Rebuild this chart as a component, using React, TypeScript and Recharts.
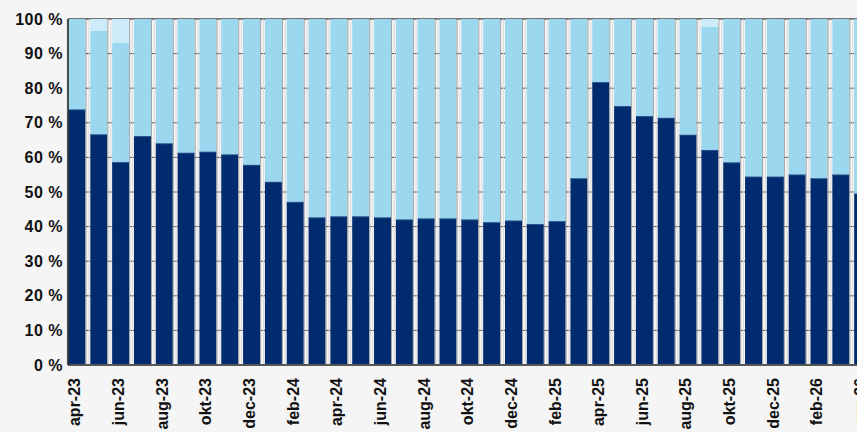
import React from 'react';
import { BarChart, Bar, XAxis, YAxis, CartesianGrid } from 'recharts';

const months: string[] = [
  'apr-23', 'maj-23', 'jun-23', 'jul-23', 'aug-23', 'sep-23', 'okt-23', 'nov-23', 'dec-23',
  'jan-24', 'feb-24', 'mar-24', 'apr-24', 'maj-24', 'jun-24', 'jul-24', 'aug-24', 'sep-24', 'okt-24', 'nov-24', 'dec-24',
  'jan-25', 'feb-25', 'mar-25', 'apr-25', 'maj-25', 'jun-25', 'jul-25', 'aug-25', 'sep-25', 'okt-25', 'nov-25', 'dec-25',
  'jan-26', 'feb-26', 'mar-26', 'apr-26',
];

const darkShare: number[] = [
  73.9, 66.7, 58.7, 66.2, 64.1, 61.4, 61.7, 60.9, 57.9,
  53.0, 47.2, 42.7, 43.0, 43.0, 42.7, 42.1, 42.4, 42.4, 42.1, 41.3, 41.8,
  40.8, 41.6, 54.0, 81.8, 74.9, 72.0, 71.5, 66.6, 62.2, 58.6, 54.5, 54.5,
  55.1, 54.0, 55.1, 49.6,
];

const midShare: number[] = [
  26.1, 29.9, 34.5, 33.8, 35.9, 38.6, 38.3, 39.1, 42.1,
  47.0, 52.8, 57.3, 57.0, 57.0, 57.3, 57.9, 57.6, 57.6, 57.9, 58.7, 58.2,
  59.2, 58.4, 46.0, 18.2, 25.1, 28.0, 28.5, 33.4, 35.6, 41.4, 45.5, 45.5,
  44.9, 46.0, 44.9, 50.4,
];

const topShare: number[] = [
  0, 3.4, 6.8, 0, 0, 0, 0, 0, 0,
  0, 0, 0, 0, 0, 0, 0, 0, 0, 0, 0, 0,
  0, 0, 0, 0, 0, 0, 0, 0, 2.2, 0, 0, 0,
  0, 0, 0, 0,
];

const yTicks: number[] = [0, 10, 20, 30, 40, 50, 60, 70, 80, 90, 100];

const data = months.map((m, i) => ({
  month: m,
  dark: darkShare[i],
  mid: midShare[i],
  top: topShare[i],
}));

const FONT = '"Liberation Sans", Arial, Helvetica, sans-serif';

const makeShape = (highlight: string | null) => (props: any) => {
  const { x, y, width, height, fill } = props;
  if (!height || height <= 0) return <g />;
  return (
    <g>
      <rect x={x} y={y} width={width} height={height} fill={fill} />
      {highlight ? (
        <line x1={x} x2={x + width} y1={y + 0.5} y2={y + 0.5} stroke={highlight} strokeWidth={1} />
      ) : null}
      <line x1={x + width + 0.5} x2={x + width + 0.5} y1={y} y2={y + height} stroke="#a3a3a3" strokeWidth={1} />
      <line x1={x - 1.5} x2={x - 1.5} y1={y} y2={y + height} stroke="#dcdcdc" strokeWidth={1} />
    </g>
  );
};

const darkShape = makeShape('#2d5a94');
const midShape = makeShape(null);
const topShape = makeShape(null);

const XTick = (props: any) => {
  const { x, y, payload } = props;
  return (
    <text
      x={x}
      y={y}
      dy={3}
      transform={`rotate(-90 ${x} ${y})`}
      textAnchor="end"
      fontFamily={FONT}
      fontWeight={700}
      fontSize={16}
      fill="#111"
    >
      {payload.value}
    </text>
  );
};

export default function App() {
  return (
    <div
      style={{
        position: 'absolute',
        left: 0,
        top: 0,
        width: 857,
        height: 432,
        overflow: 'hidden',
        background: '#f5f5f5',
        fontFamily: FONT,
      }}
    >
      <BarChart
        width={874}
        height={432}
        data={data}
        margin={{ top: 19, right: 0, bottom: 0, left: 0 }}
        barSize={17}
      >
        <CartesianGrid horizontal vertical={false} stroke="#444" strokeWidth={1} />
        <Bar dataKey="dark" stackId="s" fill="#002b6f" shape={darkShape} isAnimationActive={false} />
        <Bar dataKey="mid" stackId="s" fill="#9bd8f0" shape={midShape} isAnimationActive={false} />
        <Bar dataKey="top" stackId="s" fill="#cdebf8" shape={topShape} isAnimationActive={false} />
        <XAxis
          dataKey="month"
          interval={1}
          height={67}
          padding={{ left: -1.5, right: 0 }}
          tickSize={6}
          tickMargin={7}
          tickLine={false}
          axisLine={{ stroke: '#555', strokeWidth: 2 }}
          tick={<XTick />}
        />
        <YAxis
          type="number"
          domain={[0, 100]}
          ticks={yTicks}
          width={68}
          tickSize={3}
          tickMargin={2}
          tickLine={false}
          axisLine={{ stroke: '#1a1a1a', strokeWidth: 1.5 }}
          tickFormatter={(v: number) => `${v} %`}
          tick={{ fontFamily: FONT, fontWeight: 700, fontSize: 16, fill: '#111', letterSpacing: 0.5 }}
        />
      </BarChart>
    </div>
  );
}
